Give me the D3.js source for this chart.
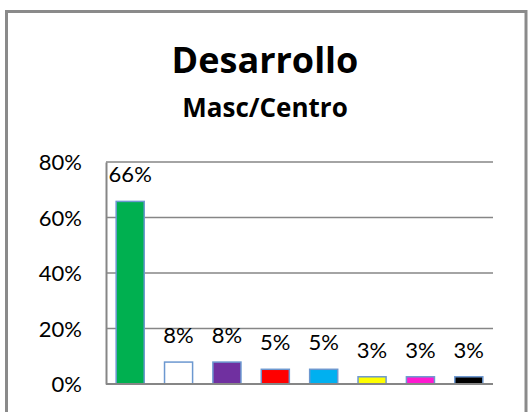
<!DOCTYPE html>
<html><head><meta charset="utf-8">
<script src="https://cdn.jsdelivr.net/npm/d3@7"></script>
<style>body{margin:0;background:#fff}svg{display:block}</style>
</head><body>
<script>
const categories = ["A","B","C","D","E","F","G","H"];
const values = [0.658, 0.079, 0.079, 0.053, 0.053, 0.026, 0.026, 0.026];
const colors = ["#00b050","#ffffff","#7030a0","#ff0000","#00b0f0","#ffff00","#ff19d0","#000000"];
const yTicks = [0, 0.2, 0.4, 0.6, 0.8];
const title = "Desarrollo";
const subtitle = "Masc/Centro";

const W = 528, H = 412;
const svg = d3.select("body").append("svg").attr("width", W).attr("height", H);
const font = "Lato, 'Open Sans', sans-serif";
const titleFont = "'Open Sans', Lato, sans-serif";

svg.append("rect").attr("x", 6.5).attr("y", 11.5).attr("width", 519.5).attr("height", 420)
  .attr("fill", "#fff").attr("stroke", "#8a8a8a").attr("stroke-width", 3);

svg.append("text").attr("x", 265).attr("y", 73).attr("text-anchor", "middle")
  .attr("font-family", titleFont).attr("font-weight", "bold").attr("font-size", 36)
  .text(title);
svg.append("text").attr("x", 265).attr("y", 117).attr("text-anchor", "middle")
  .attr("font-family", titleFont).attr("font-weight", "bold").attr("font-size", 26)
  .text(subtitle);

const x = d3.scaleBand().domain(categories).range([106, 493]).paddingInner(0.42).paddingOuter(0.21);
const y = d3.scaleLinear().domain([0, 0.8]).range([384, 162]);

const grid = svg.append("g");
grid.selectAll("line").data(yTicks.filter(d => d > 0)).join("line")
  .attr("x1", 106).attr("x2", 493).attr("y1", d => y(d)).attr("y2", d => y(d))
  .attr("stroke", "#868686").attr("stroke-width", 1.5);

const yAxis = svg.append("g").attr("transform", "translate(106,0)")
  .call(d3.axisLeft(y).tickValues(yTicks).tickFormat(d3.format(".0%")).tickSize(0).tickPadding(24));
yAxis.select(".domain").attr("stroke", "#868686").attr("stroke-width", 2);
yAxis.selectAll("text").attr("font-family", font).attr("font-size", 22).attr("fill", "#000")
  .attr("dy", "0.35em");

svg.append("g").selectAll("rect").data(values).join("rect")
  .attr("x", (d, i) => x(categories[i])).attr("width", x.bandwidth())
  .attr("y", d => y(d)).attr("height", d => y(0) - y(d))
  .attr("fill", (d, i) => colors[i]).attr("stroke", "#6c98d0").attr("stroke-width", 1.5);

svg.append("line").attr("x1", 106).attr("x2", 493).attr("y1", y(0)).attr("y2", y(0))
  .attr("stroke", "#868686").attr("stroke-width", 2);

svg.append("g").selectAll("text").data(values).join("text")
  .attr("x", (d, i) => x(categories[i]) + x.bandwidth() / 2)
  .attr("y", d => y(d) - 19).attr("text-anchor", "middle")
  .attr("font-family", font).attr("font-size", 22).attr("fill", "#000")
  .text(d => d3.format(".0%")(d));
</script>
</body></html>
